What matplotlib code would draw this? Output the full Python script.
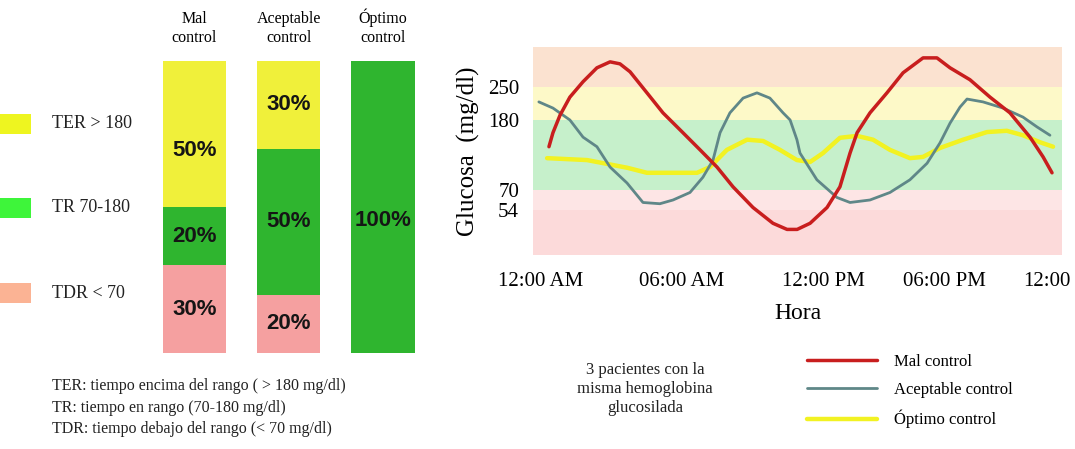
"""
Tiempo en rango: barras por paciente y curvas de glucosa de 24 h
"""
import numpy as np
import matplotlib.pyplot as plt
from matplotlib.patches import Rectangle

# ---- datos barras ----
categorias = ["Mal\ncontrol", "Aceptable\ncontrol", "Óptimo\ncontrol"]
tdr = [30, 20, 0]    # < 70
tr = [20, 50, 100]   # 70-180
ter = [50, 30, 0]    # > 180
leyenda_rangos = ["TER > 180", "TR 70-180", "TDR < 70"]
notas = [
    "TER: tiempo encima del rango ( > 180 mg/dl)",
    "TR: tiempo en rango (70-180 mg/dl)",
    "TDR: tiempo debajo del rango (< 70 mg/dl)",
]

# ---- datos curvas (hora, mg/dl) ----
horas_mal = [0.34, 0.51, 0.81, 1.23, 1.79, 2.38, 2.94, 3.36, 3.79, 4.51, 5.19, 6.04,
             6.77, 7.49, 8.17, 9.02, 9.87, 10.47, 10.9, 11.45, 12.2, 12.84, 13.34, 13.69,
             14.33, 15.17, 15.97, 16.96, 17.65, 18.35, 19.51, 20.68, 21.84, 23.01, 23.77, 24.29]
gluc_mal = [138, 160, 190, 228, 260, 288, 300, 296, 280, 237, 195, 160,
            133, 106, 75, 56, 41, 35, 35, 41, 56, 75, 128, 160,
            195, 237, 278, 308, 308, 288, 264, 228, 195, 153, 122, 97]

horas_acep = [-0.09, 0.51, 1.23, 1.79, 2.38, 2.94, 3.66, 4.34, 5.06, 5.62, 6.34, 6.89,
              7.32, 7.62, 8.04, 8.6, 9.19, 9.74, 10.3, 10.6, 10.89, 11.02, 11.74, 12.69,
              13.34, 14.33, 15.32, 16.31, 17.16, 17.8, 18.35, 18.93, 19.34, 20.27, 21.44,
              22.6, 23.42, 24.17]
gluc_acep = [218, 205, 180, 153, 138, 106, 81, 60, 59, 62, 68, 90,
             117, 160, 195, 226, 237, 226, 195, 180, 149, 128, 86, 64,
             60, 62, 68, 86, 112, 144, 175, 207, 224, 218, 205,
             186, 169, 156]

horas_opt = [0.26, 1.96, 2.81, 3.66, 4.51, 5.49, 6.64, 7.19, 7.91, 8.77, 9.45, 10.17,
             10.89, 11.45, 12.0, 12.84, 13.69, 14.48, 15.32, 16.31, 16.96, 17.8, 19.11,
             20.5, 21.66, 22.6, 23.59, 24.35]
gluc_opt = [120, 117, 111, 105, 97, 97, 97, 106, 133, 149, 147, 133,
            117, 114, 128, 152, 155, 149, 133, 120, 122, 136, 149,
            161, 163, 156, 145, 138]

limites = [10, 54, 70, 180, 250, 330]
ticks_y = [54, 70, 180, 250]
ticks_x = [0, 6, 12, 18, 24]
etiquetas_x = ["12:00 AM", "06:00 AM", "12:00 PM", "06:00 PM", "12:00"]
series = ["Mal control", "Aceptable control", "Óptimo control"]
texto_pacientes = "3 pacientes con la\nmisma hemoglobina\nglucosilada"

plt.rcParams['font.family'] = ['Liberation Serif', 'DejaVu Serif']

C_AMA = "#f0f03a"
C_VER = "#2fb52f"
C_ROS = "#f5a0a0"


def piecewise_scale(values, positions):
    # the schematic axes are not linear, so map through knots
    fwd = lambda v: np.interp(v, values, positions)
    inv = lambda p: np.interp(p, positions, values)
    return fwd, inv


def draw_bars(fig):
    ax = fig.add_axes([0.1371, 0.2138, 0.263, 0.6503])
    x = np.arange(len(categorias))
    w = 0.67
    ax.bar(x, tdr, w, color=C_ROS)
    ax.bar(x, tr, w, bottom=tdr, color=C_VER)
    ax.bar(x, ter, w, bottom=np.add(tdr, tr), color=C_AMA)

    # a few labels sit a little below the middle of their block
    nudge = {(0, 2): -5.5, (2, 1): -4.5}
    base = np.zeros(len(x))
    for k, vals in enumerate((tdr, tr, ter)):
        for i, v in enumerate(vals):
            if v > 0:
                ax.text(x[i], base[i] + v / 2 + nudge.get((i, k), 0), f"{v}%",
                        ha="center", va="center", fontsize=16, fontweight="bold",
                        family="Liberation Sans", color="#151515")
        base += vals

    ax.set_xlim(-0.5, 2.5)
    ax.set_ylim(0, 100)
    ax.xaxis.tick_top()
    ax.set_xticks(x)
    ax.set_xticklabels(categorias, fontsize=11.5, linespacing=1.2)
    ax.tick_params(axis="x", length=0, pad=11)
    ax.set_yticks([])
    for s in ax.spines.values():
        s.set_visible(False)

    # legend boxes on the far left
    for lab, col, yc in zip(leyenda_rangos, ["#eef520", "#3ef53a", "#fbb394"],
                            [124, 208, 293]):
        fig.add_artist(Rectangle((0, 1 - (yc + 10) / 449), 31 / 1075, 20 / 449,
                                 transform=fig.transFigure, color=col, lw=0))
        fig.text(52 / 1075, 1 - yc / 449, lab, fontsize=13, va="center", color="#222222")

    for i, t in enumerate(notas):
        fig.text(52 / 1075, 1 - (386 + 21.5 * i) / 449, t, fontsize=11.5,
                 va="center", color="#222222")


def draw_curves(fig):
    ax = fig.add_axes([0.4958, 0.4321, 0.4921, 0.4633])
    ax.set_yscale("function", functions=piecewise_scale(limites, [0, 45, 65, 135, 168.3, 208]))
    ax.set_xscale("function", functions=piecewise_scale(
        [-1, 0, 6, 12, 18, 24, 25], [517.5, 541, 682, 823, 944, 1047, 1064.2]))

    bandas = ["#fcdada", "#fde5e5", "#c6f0cb", "#fdf9c8", "#fbe2d0"]
    for lo, hi, col in zip(limites[:-1], limites[1:], bandas):
        ax.axhspan(lo, hi, color=col, lw=0, zorder=0)

    l3, = ax.plot(horas_opt, gluc_opt, color="#f2f222", lw=3.2, solid_capstyle="round")
    l2, = ax.plot(horas_acep, gluc_acep, color="#5f8788", lw=2.0, solid_capstyle="round")
    l1, = ax.plot(horas_mal, gluc_mal, color="#c81e1e", lw=2.5, solid_capstyle="round")

    ax.set_xlim(-0.34, 24.87)
    ax.set_ylim(limites[0], limites[-1])
    ax.set_xticks(ticks_x)
    ax.set_xticklabels(etiquetas_x, fontsize=15)
    ax.set_yticks(ticks_y)
    ax.set_yticklabels([str(t) for t in ticks_y], fontsize=15)
    ax.minorticks_off()
    ax.tick_params(length=0)
    ax.tick_params(axis="x", pad=12)
    ax.tick_params(axis="y", pad=10)
    ax.set_xlabel("Hora", fontsize=17, labelpad=9)
    ax.set_ylabel("Glucosa  (mg/dl)", fontsize=18, labelpad=6)
    for s in ax.spines.values():
        s.set_visible(False)

    fig.text(645 / 1075, 1 - 389 / 449, texto_pacientes, ha="center", va="center",
             fontsize=12, linespacing=1.25, color="#222222")
    fig.legend([l1, l2, l3], series, loc="upper left",
               bbox_to_anchor=(807 / 1075, 1 - 354 / 449), frameon=False,
               fontsize=12, handlelength=4.2, handletextpad=1.0,
               labelspacing=0.72, borderpad=0, borderaxespad=0)


if __name__ == '__main__':
    fig = plt.figure(figsize=(10.75, 4.49), dpi=100)
    draw_bars(fig)
    draw_curves(fig)
    fig.savefig("out.png", dpi=100)
